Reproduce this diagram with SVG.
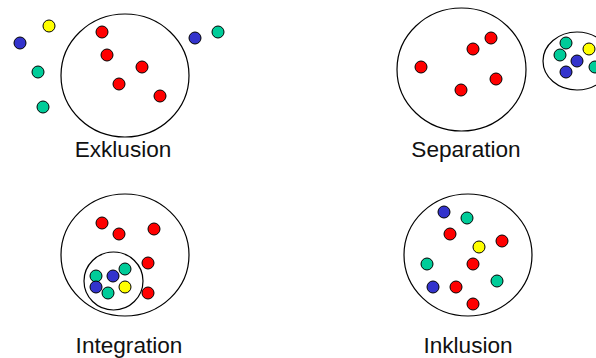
<svg xmlns="http://www.w3.org/2000/svg" width="596" height="358" viewBox="0 0 596 358">
<style>
.set{fill:none;stroke:#000;stroke-width:1.2}
.d{stroke:#000;stroke-width:1}
.r{fill:#ff0000}
.b{fill:#3333cc}
.t{fill:#00cc99}
.y{fill:#ffff00}
.lbl{font-family:"Liberation Sans",Arial,sans-serif;font-size:22.6px;fill:#111;text-anchor:middle}
</style>
<rect width="596" height="358" fill="#fff"/>
<g id="exklusion">
<ellipse class="set" cx="125" cy="75.5" rx="64" ry="61.5"/>
<circle class="d r" cx="102" cy="32" r="6"/>
<circle class="d r" cx="107" cy="55" r="6"/>
<circle class="d r" cx="142" cy="67" r="6"/>
<circle class="d r" cx="119" cy="84" r="6"/>
<circle class="d r" cx="160" cy="96" r="6"/>
<circle class="d y" cx="49" cy="26" r="6"/>
<circle class="d b" cx="20" cy="43" r="6"/>
<circle class="d t" cx="38" cy="72" r="6"/>
<circle class="d t" cx="43" cy="107" r="6"/>
<circle class="d b" cx="195" cy="38" r="6"/>
<circle class="d t" cx="218" cy="32" r="6"/>
<text class="lbl" x="123" y="157">Exklusion</text>
</g>
<g id="separation">
<ellipse class="set" cx="461.5" cy="69.5" rx="64.5" ry="61.5"/>
<circle class="d r" cx="491" cy="38" r="6"/>
<circle class="d r" cx="473" cy="49" r="6"/>
<circle class="d r" cx="421" cy="67" r="6"/>
<circle class="d r" cx="496" cy="79" r="6"/>
<circle class="d r" cx="461" cy="90" r="6"/>
<ellipse class="set" cx="577" cy="61" rx="34" ry="29"/>
<circle class="d t" cx="566" cy="43" r="6"/>
<circle class="d t" cx="560" cy="55" r="6"/>
<circle class="d y" cx="589" cy="49" r="6"/>
<circle class="d b" cx="577" cy="61" r="6"/>
<circle class="d t" cx="595" cy="67" r="6"/>
<circle class="d b" cx="566" cy="72" r="6"/>
<text class="lbl" x="466" y="157">Separation</text>
</g>
<g id="integration">
<ellipse class="set" cx="125" cy="255" rx="64" ry="61"/>
<circle class="d r" cx="102" cy="223" r="6"/>
<circle class="d r" cx="119" cy="234" r="6"/>
<circle class="d r" cx="154" cy="229" r="6"/>
<circle class="d r" cx="148" cy="263" r="6"/>
<circle class="d r" cx="148" cy="293" r="6"/>
<ellipse class="set" cx="113.5" cy="281" rx="29.5" ry="29"/>
<circle class="d t" cx="96" cy="276" r="6"/>
<circle class="d b" cx="113" cy="276" r="6"/>
<circle class="d t" cx="125" cy="269" r="6"/>
<circle class="d b" cx="96" cy="287" r="6"/>
<circle class="d t" cx="108" cy="293" r="6"/>
<circle class="d y" cx="125" cy="287" r="6"/>
<text class="lbl" x="129" y="353">Integration</text>
</g>
<g id="inklusion">
<ellipse class="set" cx="468" cy="255" rx="64" ry="61"/>
<circle class="d b" cx="444" cy="212" r="6"/>
<circle class="d t" cx="467" cy="218" r="6"/>
<circle class="d r" cx="450" cy="234" r="6"/>
<circle class="d y" cx="479" cy="247" r="6"/>
<circle class="d r" cx="502" cy="241" r="6"/>
<circle class="d t" cx="427" cy="264" r="6"/>
<circle class="d r" cx="473" cy="264" r="6"/>
<circle class="d t" cx="497" cy="281" r="6"/>
<circle class="d b" cx="433" cy="287" r="6"/>
<circle class="d r" cx="456" cy="287" r="6"/>
<circle class="d r" cx="473" cy="304" r="6"/>
<text class="lbl" x="468" y="353">Inklusion</text>
</g>
</svg>
